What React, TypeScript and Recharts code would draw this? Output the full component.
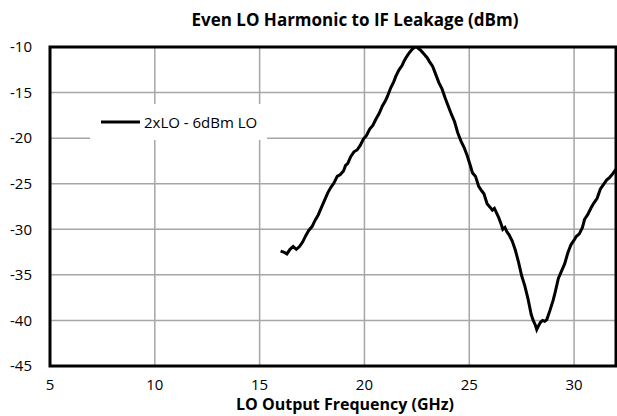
import React from 'react';
import { LineChart, Line, XAxis, YAxis, CartesianGrid, ReferenceArea } from 'recharts';

const freqGHz = [
  16.0, 16.15, 16.3, 16.45, 16.6, 16.75, 16.9, 17.05, 17.2, 17.35, 17.5, 17.65, 17.8, 17.95, 18.1, 18.25,
  18.4, 18.55, 18.7, 18.85, 19.0, 19.1, 19.2, 19.35, 19.5, 19.65, 19.8, 19.95, 20.1, 20.25, 20.4, 20.55,
  20.7, 20.85, 21.0, 21.1, 21.25, 21.4, 21.5, 21.65, 21.8, 21.9, 22.0, 22.15, 22.3, 22.4, 22.5, 22.6,
  22.7, 22.85, 23.0, 23.1, 23.25, 23.4, 23.55, 23.7, 23.85, 24.0, 24.15, 24.3, 24.45, 24.6, 24.75, 24.9,
  25.05, 25.15, 25.3, 25.45, 25.6, 25.7, 25.85, 26.0, 26.1, 26.2, 26.3, 26.4, 26.5, 26.6, 26.7, 26.8,
  26.9, 27.05, 27.2, 27.35, 27.5, 27.65, 27.8, 27.95, 28.05, 28.15, 28.22, 28.3, 28.4, 28.5, 28.6, 28.7,
  28.85, 29.0, 29.1, 29.25, 29.4, 29.55, 29.7, 29.85, 30.0, 30.1, 30.25, 30.4, 30.5, 30.65, 30.8, 30.95,
  31.1, 31.25, 31.4, 31.55, 31.7, 31.85, 32.0,
];

// 2xLO leakage at 6dBm LO drive
const leakageDbm = [
  -32.4, -32.5, -32.7, -32.2, -31.9, -32.2, -31.9, -31.4, -30.7, -30.1, -29.7, -29.0, -28.4, -27.6, -26.8, -26.0,
  -25.4, -24.9, -24.2, -24.0, -23.6, -23.0, -22.8, -22.0, -21.5, -21.3, -20.8, -20.1, -19.7, -19.0, -18.6, -17.9,
  -17.3, -16.5, -15.9, -15.4, -14.5, -13.8, -13.2, -12.5, -12.0, -11.5, -11.1, -10.6, -10.2, -10.0, -10.0, -10.2,
  -10.4, -10.8, -11.2, -11.6, -12.1, -13.0, -13.9, -14.6, -15.6, -16.5, -17.4, -18.2, -19.4, -20.3, -21.0, -21.9,
  -23.0, -23.8, -24.2, -25.3, -25.8, -26.1, -27.2, -27.6, -27.9, -27.7, -28.2, -28.7, -29.3, -30.0, -29.8, -30.3,
  -30.6, -31.3, -32.3, -33.6, -35.1, -36.2, -37.6, -39.3, -40.0, -40.5, -41.0, -40.6, -40.2, -40.0, -40.1, -39.9,
  -38.9, -37.8, -36.9, -35.4, -34.6, -33.8, -32.6, -31.7, -31.2, -30.8, -30.5, -29.8, -28.9, -28.4, -27.7, -27.1,
  -26.6, -25.6, -25.1, -24.6, -24.3, -23.9, -23.4,
];

const xTicks = [5, 10, 15, 20, 25, 30];
const yTicks = [-45, -40, -35, -30, -25, -20, -15, -10];
const seriesName = '2xLO - 6dBm LO';

const FONT = '"Open Sans", "Noto Sans", sans-serif';

const data = freqGHz.map((f, i) => ({ f, v: leakageDbm[i] }));

export default function App() {
  return (
    <div style={{ position: 'absolute', left: 0, top: 0, width: 617, height: 416, background: '#fff' }}>
      <LineChart width={617} height={416} data={data} margin={{ top: 47, right: 1, bottom: 0, left: 0 }}>
        <text x={355} y={26} textAnchor="middle" fontFamily={FONT} fontWeight="bold" fontSize={17} fill="#000">
          Even LO Harmonic to IF Leakage (dBm)
        </text>
        <text x={345} y={410} textAnchor="middle" fontFamily={FONT} fontWeight="bold" fontSize={16} fill="#000">
          LO Output Frequency (GHz)
        </text>
        <CartesianGrid stroke="#a6a6a6" strokeWidth={1.5} horizontalValues={yTicks} verticalValues={xTicks} />
        <XAxis
          dataKey="f"
          type="number"
          domain={[5, 32]}
          ticks={xTicks}
          allowDataOverflow
          height={50}
          tickSize={0}
          tickMargin={13}
          axisLine={false}
          tick={{ fill: '#000', fontSize: 15, fontFamily: FONT }}
        />
        <YAxis
          type="number"
          domain={[-45, -10]}
          ticks={yTicks}
          allowDataOverflow
          width={50}
          tickSize={0}
          tickMargin={18}
          axisLine={false}
          tick={{ fill: '#000', fontSize: 15, fontFamily: FONT }}
        />
        <ReferenceArea x1={5} x2={32} y1={-45} y2={-10} fill="none" stroke="#000" strokeWidth={3} ifOverflow="visible" />
        <Line
          dataKey="v"
          name={seriesName}
          type="linear"
          stroke="#000"
          strokeWidth={3}
          dot={false}
          isAnimationActive={false}
        />
      </LineChart>
      <div style={{ position: 'absolute', left: 90, top: 104, width: 177, height: 36, background: '#fff' }}>
        <svg width={177} height={36} style={{ position: 'absolute', left: 0, top: 0 }}>
          <line x1={11} x2={50} y1={18} y2={18} stroke="#000" strokeWidth={3} />
          <text x={54} y={23.5} fontFamily={FONT} fontSize={15} fill="#000">{seriesName}</text>
        </svg>
      </div>
    </div>
  );
}
